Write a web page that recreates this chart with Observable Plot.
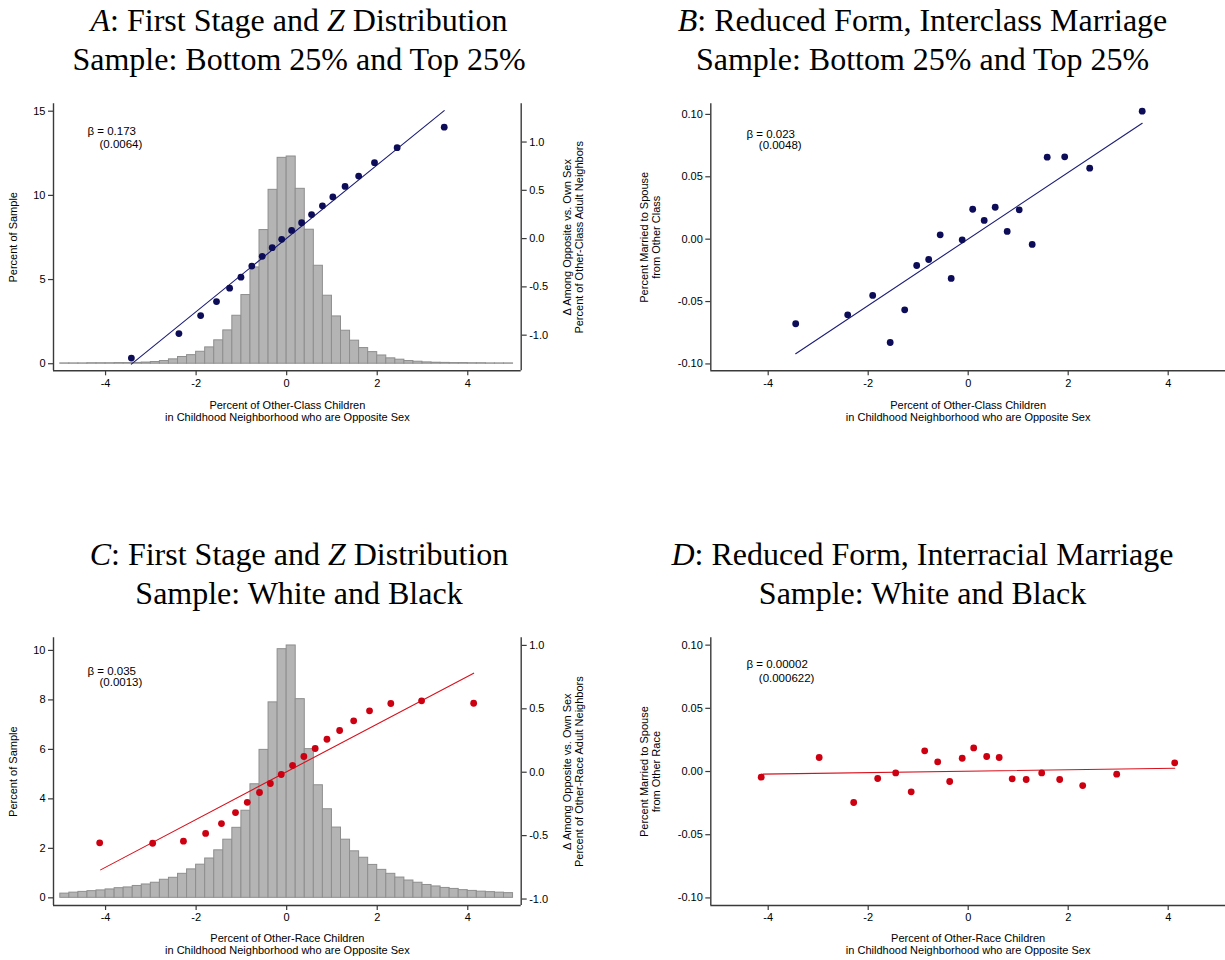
<!DOCTYPE html>
<html><head><meta charset="utf-8">
<script src="https://cdn.jsdelivr.net/npm/d3@7"></script>
<script src="https://cdn.jsdelivr.net/npm/@observablehq/plot@0.6"></script>
<style>
body{margin:0;background:#fff;}
#root{position:relative;width:1225px;height:960px;overflow:hidden;background:#fff;}
.title{position:absolute;font-family:"Liberation Serif","Times New Roman",serif;font-size:32px;line-height:39px;text-align:center;color:#000;white-space:nowrap;}
.panel{position:absolute;}
.panel svg{position:absolute;left:0;top:0;max-width:none !important;}
</style></head><body><div id="root"></div>
<script>
// ---------- data ----------
const binEdges = [-5.0,-4.8,-4.6,-4.4,-4.2,-4.0,-3.8,-3.6,-3.4,-3.2,-3.0,-2.8,-2.6,-2.4,-2.2,-2.0,-1.8,-1.6,-1.4,-1.2,-1.0,-0.8,-0.6,-0.4,-0.2,0.0,0.2,0.4,0.6,0.8,1.0,1.2,1.4,1.6,1.8,2.0,2.2,2.4,2.6,2.8,3.0,3.2,3.4,3.6,3.8,4.0,4.2,4.4,4.6,4.8,5.0];

const histA = [0.02,0.02,0.02,0.03,0.03,0.03,0.04,0.04,0.05,0.07,0.10,0.16,0.26,0.40,0.51,0.71,0.97,1.39,1.98,2.85,4.08,5.72,7.94,10.33,12.23,
               12.31,10.39,7.96,5.82,4.04,2.81,1.96,1.37,0.93,0.69,0.49,0.32,0.24,0.16,0.12,0.08,0.06,0.05,0.04,0.04,0.03,0.03,0.02,0.02,0.02];
const histC = [0.17,0.21,0.24,0.27,0.30,0.34,0.39,0.42,0.48,0.54,0.61,0.73,0.81,0.97,1.15,1.34,1.59,1.92,2.35,2.83,3.52,4.59,5.98,7.90,10.05,
               10.20,8.03,6.01,4.55,3.58,2.84,2.35,1.88,1.62,1.33,1.13,0.97,0.82,0.70,0.61,0.52,0.46,0.40,0.36,0.31,0.28,0.25,0.23,0.21,0.19];

const dotsAx = [-3.43,-2.38,-1.90,-1.55,-1.26,-1.01,-0.77,-0.54,-0.32,-0.11,0.11,0.33,0.55,0.79,1.02,1.29,1.59,1.94,2.44,3.48];
const dotsAy = [-1.237,-0.984,-0.797,-0.652,-0.513,-0.399,-0.285,-0.184,-0.094,-0.007,0.085,0.164,0.249,0.339,0.432,0.540,0.648,0.786,0.942,1.154];
const fitAx = [-3.43, 3.48];
const fitAy = [-1.30, 1.326];

const dotsBx = [-3.45,-2.41,-1.91,-1.56,-1.27,-1.03,-0.79,-0.56,-0.34,-0.12,0.09,0.32,0.54,0.78,1.02,1.28,1.58,1.93,2.43,3.48];
const dotsBy = [-0.0678,-0.0606,-0.0451,-0.0828,-0.0566,-0.0211,-0.0163,0.0035,-0.0315,-0.0005,0.0240,0.0150,0.0256,0.0062,0.0235,-0.0042,0.0657,0.0660,0.0569,0.1026];
const fitBx = [-3.45, 3.48];
const fitBy = [-0.0918, 0.0929];

const dotsCx = [-4.13,-2.96,-2.28,-1.79,-1.44,-1.13,-0.87,-0.60,-0.36,-0.12,0.13,0.38,0.63,0.89,1.17,1.48,1.83,2.30,2.98,4.13];
const dotsCy = [-0.557,-0.560,-0.544,-0.483,-0.405,-0.318,-0.237,-0.160,-0.089,-0.018,0.053,0.124,0.187,0.260,0.329,0.405,0.484,0.542,0.563,0.544];
const fitCx = [-4.11, 4.13];
const fitCy = [-0.770, 0.781];

const dotsDx = [-4.14,-2.98,-2.29,-1.81,-1.45,-1.14,-0.87,-0.61,-0.37,-0.12,0.11,0.37,0.62,0.88,1.16,1.47,1.83,2.29,2.97,4.13];
const dotsDy = [-0.0045,0.0111,-0.0245,-0.0055,-0.0011,-0.0161,0.0164,0.0077,-0.0079,0.0105,0.0187,0.0119,0.0111,-0.0058,-0.0063,-0.0011,-0.0063,-0.0111,-0.0021,0.0069];
const fitDx = [-4.14, 4.13];
const fitDy = [-0.0021, 0.0026];

const xTicks = [-4,-2,0,2,4];
const leftTicksA = [0,5,10,15];
const leftTicksC = [0,2,4,6,8,10];
const rightTicksA = [-1.0,-0.5,0.0,0.5,1.0];
const rightTicksC = [-1.0,-0.5,0.0,0.5,1.0];
const marryTicks = [-0.10,-0.05,0.00,0.05,0.10];

const titles = [
  {key:"A", rest:": First Stage and ", z:true, line2:"Sample: Bottom 25% and Top 25%"},
  {key:"B", rest:": Reduced Form, Interclass Marriage", line2:"Sample: Bottom 25% and Top 25%"},
  {key:"C", rest:": First Stage and ", z:true, line2:"Sample: White and Black"},
  {key:"D", rest:": Reduced Form, Interracial Marriage", line2:"Sample: White and Black"}
];
const xLabelClass = "Percent of Other-Class Children\nin Childhood Neighborhood who are Opposite Sex";
const xLabelRace = "Percent of Other-Race Children\nin Childhood Neighborhood who are Opposite Sex";
const yLabelHist = "Percent of Sample";
const rLabelA = "Δ Among Opposite vs. Own Sex\nPercent of Other-Class Adult Neighbors";
const rLabelC = "Δ Among Opposite vs. Own Sex\nPercent of Other-Race Adult Neighbors";
const yLabelB = "Percent Married to Spouse\nfrom Other Class";
const yLabelD = "Percent Married to Spouse\nfrom Other Race";
const betaA = ["β = 0.173", "(0.0064)"];
const betaB = ["β = 0.023", "(0.0048)"];
const betaC = ["β = 0.035", "(0.0013)"];
const betaD = ["β = 0.00002", "(0.000622)"];

// ---------- styling ----------
const AX = "#3a3a3a";
const NAVY = "#0c0c58";
const NAVYLINE = "#1c1c78";
const RED = "#cc0010";
const REDLINE = "#d8101c";
const HFILL = "#b4b4b4";
const HSTROKE = "#8e8e8e";
const FONT = "'Liberation Sans', Arial, Helvetica, sans-serif";

const root = document.getElementById("root");

function zip(xs, ys){ return xs.map((x,i)=>({x, y: ys[i]})); }
function bins(h){ return h.map((v,i)=>({x1: binEdges[i], x2: binEdges[i+1], y: v})); }
const fmtInt = d => String(d);
const fmt1 = d => d.toFixed(1);
const fmt2 = d => d.toFixed(2);

function base(g, xdom, ydom, xAxisOff){
  return {
    width: g.w, height: g.h,
    marginLeft: g.ml, marginRight: g.mr, marginTop: g.mt, marginBottom: g.mb,
    x: xAxisOff ? {domain: xdom, axis: null} : {domain: xdom},
    y: {domain: ydom},
    style: {background: "transparent", fontFamily: FONT, fontSize: "11px", color: "#000", overflow: "visible", maxWidth: "none"}
  };
}
function xAxisMarks(xdom, ydom, label, dyLab){
  return [
    Plot.axisX({ticks: xTicks, tickSize: 5, tickPadding: 3, tickFormat: fmtInt, label: null, stroke: AX, strokeWidth: 1.2, fontSize: 11}),
    Plot.ruleY([ydom[0]], {stroke: AX, strokeWidth: 1.4}),
    Plot.text([label], {frameAnchor: "bottom", dy: dyLab, text: d => d, textAnchor: "middle", lineAnchor: "middle", fontSize: 11, lineHeight: 1.12, fill: "#000"})
  ];
}
function leftAxisMarks(ticks, fmt, xdom, label, dxLab){
  return [
    Plot.axisY({anchor: "left", ticks, tickSize: 5, tickPadding: 3, tickFormat: fmt, label: null, stroke: AX, strokeWidth: 1.2, fontSize: 11}),
    Plot.ruleX([xdom[0]], {stroke: AX, strokeWidth: 1.4}),
    Plot.text([label], {frameAnchor: "left", dx: dxLab, rotate: -90, text: d => d, textAnchor: "middle", lineAnchor: "middle", fontSize: 11, lineHeight: 1.12, fill: "#000"})
  ];
}
function betaMarks(b, p){
  return [
    Plot.text([b[0]], {frameAnchor: "top-left", dx: p[0], dy: p[1], text: d => d, textAnchor: "start", lineAnchor: "middle", fontSize: 11.5, fill: "#000"}),
    Plot.text([b[1]], {frameAnchor: "top-left", dx: p[2], dy: p[3], text: d => d, textAnchor: "start", lineAnchor: "middle", fontSize: 11.5, fill: "#000"})
  ];
}
function addPanel(left, top, g, svgs){
  const div = document.createElement("div");
  div.className = "panel";
  div.style.left = left + "px"; div.style.top = top + "px";
  div.style.width = g.w + "px"; div.style.height = g.h + "px";
  svgs.forEach(s => { s.style.width = g.w + "px"; s.style.height = g.h + "px"; div.appendChild(s); });
  root.appendChild(div);
}

// ---------- histogram panels (A, C) ----------
function histPanel(opt){
  const g = opt.g;
  const svg1 = Plot.plot({
    ...base(g, opt.xdom, opt.ldom, false),
    marks: [
      Plot.rectY(bins(opt.hist), {x1: "x1", x2: "x2", y: "y", fill: HFILL, stroke: HSTROKE, strokeWidth: 1}),
      ...xAxisMarks(opt.xdom, opt.ldom, opt.xlabel, opt.dyLab),
      ...leftAxisMarks(opt.lticks, fmtInt, opt.xdom, yLabelHist, -40)
    ]
  });
  const svg2 = Plot.plot({
    ...base(g, opt.xdom, opt.rdom, true),
    marks: [
      Plot.line(zip(opt.fx, opt.fy), {x: "x", y: "y", stroke: opt.lineColor, strokeWidth: 1.1}),
      Plot.dot(zip(opt.dx, opt.dy), {x: "x", y: "y", r: 3.4, fill: opt.dotColor, stroke: "none"}),
      Plot.axisY({anchor: "right", ticks: opt.rticks, tickSize: 5, tickPadding: 3, tickFormat: fmt1, label: null, stroke: AX, strokeWidth: 1.2, fontSize: 11}),
      Plot.ruleX([opt.xdom[1]], {stroke: AX, strokeWidth: 1.4}),
      Plot.text([opt.rlabel], {frameAnchor: "right", dx: 52, rotate: -90, text: d => d, textAnchor: "middle", lineAnchor: "middle", fontSize: 11, lineHeight: 1.12, fill: "#000"}),
      ...betaMarks(opt.beta, opt.betaPos)
    ]
  });
  addPanel(opt.left, opt.top, g, [svg1, svg2]);
}

// ---------- scatter panels (B, D) ----------
function scatterPanel(opt){
  const g = opt.g;
  const svg = Plot.plot({
    ...base(g, opt.xdom, opt.ydom, false),
    marks: [
      Plot.line(zip(opt.fx, opt.fy), {x: "x", y: "y", stroke: opt.lineColor, strokeWidth: 1.1}),
      Plot.dot(zip(opt.dx, opt.dy), {x: "x", y: "y", r: 3.4, fill: opt.dotColor, stroke: "none"}),
      ...xAxisMarks(opt.xdom, opt.ydom, opt.xlabel, opt.dyLab),
      ...leftAxisMarks(marryTicks, fmt2, opt.xdom, opt.ylabel, -61),
      ...betaMarks(opt.beta, opt.betaPos)
    ]
  });
  addPanel(opt.left, opt.top, g, [svg]);
}

const gTopL = {w: 612, h: 340, ml: 53, mr: 91.3, mt: 8.3, mb: 64.7};
const gTopR = {w: 613, h: 340, ml: 98.3, mr: 0, mt: 8.3, mb: 64.7};
const gBotL = {w: 612, h: 330, ml: 53, mr: 91.3, mt: 7.3, mb: 55};
const gBotR = {w: 613, h: 330, ml: 98.3, mr: 0, mt: 7.3, mb: 55};
const xdomL = [-5.15, 5.18];
const xdomR = [-5.148, 5.146];

histPanel({left: 0, top: 95, g: gTopL, xdom: xdomL, ldom: [-0.42, 15.44], rdom: [-1.369, 1.396],
  hist: histA, lticks: leftTicksA, rticks: rightTicksA, xlabel: xLabelClass, dyLab: 40,
  fx: fitAx, fy: fitAy, dx: dotsAx, dy: dotsAy, lineColor: NAVYLINE, dotColor: NAVY,
  rlabel: rLabelA, beta: betaA, betaPos: [34, 27.4, 46, 40.7]});

scatterPanel({left: 612, top: 95, g: gTopR, xdom: xdomR, ydom: [-0.1055, 0.1085],
  xlabel: xLabelClass, dyLab: 40, ylabel: yLabelB,
  fx: fitBx, fy: fitBy, dx: dotsBx, dy: dotsBy, lineColor: NAVYLINE, dotColor: NAVY,
  beta: betaB, betaPos: [35.7, 30.7, 48, 41.7]});

histPanel({left: 0, top: 630, g: gBotL, xdom: xdomL, ldom: [-0.31, 10.51], rdom: [-1.051, 1.06],
  hist: histC, lticks: leftTicksC, rticks: rightTicksC, xlabel: xLabelRace, dyLab: 38.7,
  fx: fitCx, fy: fitCy, dx: dotsCx, dy: dotsCy, lineColor: REDLINE, dotColor: RED,
  rlabel: rLabelC, beta: betaC, betaPos: [34, 33.4, 46, 45]});

scatterPanel({left: 612, top: 630, g: gBotR, xdom: xdomR, ydom: [-0.106, 0.1058],
  xlabel: xLabelRace, dyLab: 38.7, ylabel: yLabelD,
  fx: fitDx, fy: fitDy, dx: dotsDx, dy: dotsDy, lineColor: REDLINE, dotColor: RED,
  beta: betaD, betaPos: [35.7, 27, 48, 40.4]});

// ---------- titles ----------
const titlePos = [
  {left: -7, top: 1, width: 612},
  {left: 616, top: 1, width: 613},
  {left: -7, top: 535, width: 612},
  {left: 616, top: 535, width: 613}
];
titles.forEach((t, i) => {
  const d = document.createElement("div");
  d.className = "title";
  const p = titlePos[i];
  d.style.left = p.left + "px"; d.style.top = p.top + "px"; d.style.width = p.width + "px";
  const l1 = document.createElement("div");
  const k = document.createElement("i"); k.textContent = t.key; l1.appendChild(k);
  l1.appendChild(document.createTextNode(t.rest));
  if (t.z) {
    const z = document.createElement("i"); z.textContent = "Z"; l1.appendChild(z);
    l1.appendChild(document.createTextNode(" Distribution"));
  }
  const l2 = document.createElement("div"); l2.textContent = t.line2;
  d.appendChild(l1); d.appendChild(l2);
  root.appendChild(d);
});
</script>
</body></html>
